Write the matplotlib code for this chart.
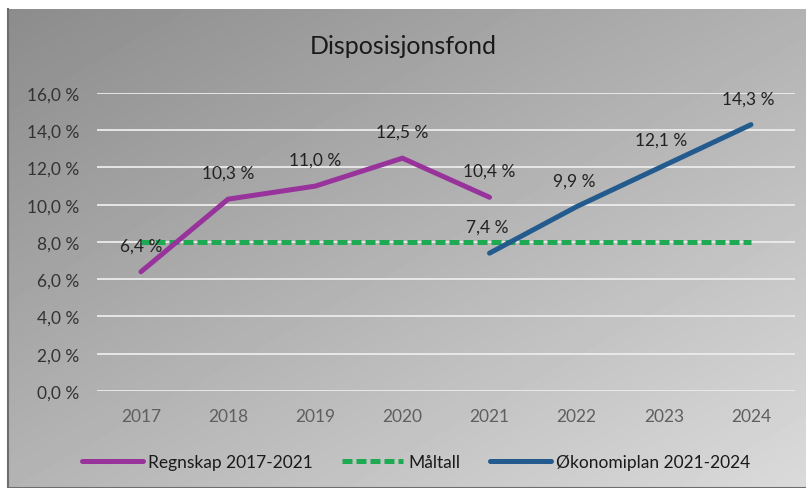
import numpy as np
import matplotlib.pyplot as plt

years = ['2017', '2018', '2019', '2020', '2021', '2022', '2023', '2024']
regnskap = [6.4, 10.3, 11.0, 12.5, 10.4]
maltall = [8.0, 8.0, 8.0, 8.0, 8.0, 8.0, 8.0, 8.0]
okonomiplan = [7.4, 9.9, 12.1, 14.3]
y_ticks = [0, 2, 4, 6, 8, 10, 12, 14, 16]

plt.rcParams['font.family'] = ['Lato', 'DejaVu Sans']

fig = plt.figure(figsize=(8.06, 4.89), dpi=100)
fig.patch.set_facecolor('white')

# gradient background box
bg = fig.add_axes([8 / 806, 0, 798 / 806, 1 - 10 / 489])
xx, yy = np.meshgrid(np.linspace(0, 1, 200), np.linspace(0, 1, 120))
grad = 140 + 38 * xx + 40 * yy
bg.imshow(grad, cmap='gray', vmin=0, vmax=255, aspect='auto',
          extent=[0, 1, 1, 0], interpolation='bilinear')
bg.set_axis_off()
bg.plot([0, 0], [0, 1], color='#6e6e6e', lw=1.5, transform=bg.transAxes, clip_on=False)
bg.plot([0, 1], [0, 0], color='#6e6e6e', lw=1.5, transform=bg.transAxes, clip_on=False)

ax = fig.add_axes([0.1208, 0.1984, 0.865, 0.6094])
ax.patch.set_alpha(0)
x = np.arange(len(years))
ax.set_xlim(-0.5, len(years) - 0.5)
ax.set_ylim(0, 16)
ax.set_yticks(y_ticks)
ax.set_yticklabels([f'{v:.1f} %'.replace('.', ',') for v in y_ticks],
                   fontsize=12.5, color='#333333')
ax.set_xticks(x)
ax.set_xticklabels(years, fontsize=12.5, color='#5f5f5f')
ax.tick_params(length=0)
ax.tick_params(axis='x', pad=12)
ax.tick_params(axis='y', pad=13)
for s in ax.spines.values():
    s.set_visible(False)
ax.grid(axis='y', color='#ececec', lw=1.3)
ax.set_axisbelow(True)

ax.plot(x[:len(regnskap)], regnskap, color='#98339c', lw=3.6,
        solid_capstyle='round', label='Regnskap 2017-2021', zorder=3)
ax.plot(x, maltall, color='#1eaa52', lw=3.6, dashes=(2.0, 0.8),
        label='Måltall', zorder=2)
ax.plot(x[4:], okonomiplan, color='#235b8e', lw=3.6,
        solid_capstyle='round', label='Økonomiplan 2021-2024', zorder=3)

for xi, v in zip(x[:len(regnskap)], regnskap):
    ax.annotate(f'{v:.1f} %'.replace('.', ','), (xi, v), xytext=(0, 19),
                textcoords='offset points', ha='center', va='center',
                fontsize=12.5, color='#222222', zorder=4)
for xi, v in zip(x[4:], okonomiplan):
    ax.annotate(f'{v:.1f} %'.replace('.', ','), (xi, v), xytext=(-2, 19),
                textcoords='offset points', ha='center', va='center',
                fontsize=12.5, color='#222222', zorder=4)

fig.text(0.5, 1 - 47 / 489, 'Disposisjonsfond', ha='center', va='center',
         fontsize=18, color='#1a1a1a')

fig.legend(loc='center', bbox_to_anchor=(416 / 806, 1 - 463 / 489),
           ncol=3, frameon=False, fontsize=12.5, handlelength=3.5,
           handletextpad=0.3, columnspacing=1.7, labelcolor='#1a1a1a')

fig.savefig('out.png', dpi=100)
